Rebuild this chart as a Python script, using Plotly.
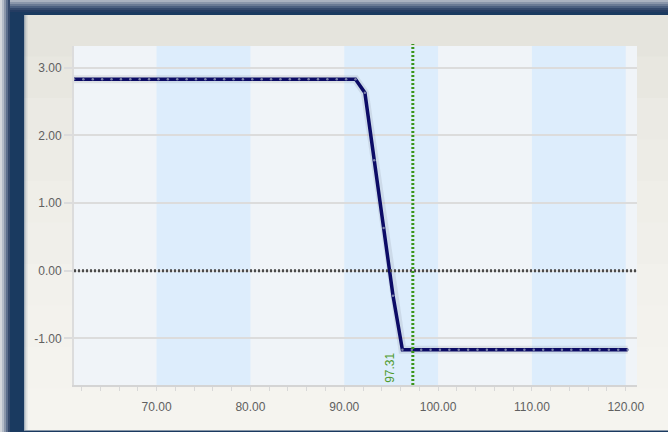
import plotly.graph_objects as go

# ---------------- data ----------------
price = [61.2, 62.2, 63.2, 64.2, 65.2, 66.2, 67.2, 68.2, 69.2, 70.2,
         71.2, 72.2, 73.2, 74.2, 75.2, 76.2, 77.2, 78.2, 79.2, 80.2,
         81.2, 82.2, 83.2, 84.2, 85.2, 86.2, 87.2, 88.2, 89.2, 90.2,
         91.2, 92.2, 93.2, 94.2, 95.2, 96.2, 97.2, 98.2, 99.2, 100.2,
         101.2, 102.2, 103.2, 104.2, 105.2, 106.2, 107.2, 108.2, 109.2, 110.2,
         111.2, 112.2, 113.2, 114.2, 115.2, 116.2, 117.2, 118.2, 119.2, 120.2]
profit = [2.83, 2.83, 2.83, 2.83, 2.83, 2.83, 2.83, 2.83, 2.83, 2.83,
          2.83, 2.83, 2.83, 2.83, 2.83, 2.83, 2.83, 2.83, 2.83, 2.83,
          2.83, 2.83, 2.83, 2.83, 2.83, 2.83, 2.83, 2.83, 2.83, 2.83,
          2.83, 2.63, 1.63, 0.63, -0.37, -1.17, -1.17, -1.17, -1.17, -1.17,
          -1.17, -1.17, -1.17, -1.17, -1.17, -1.17, -1.17, -1.17, -1.17, -1.17,
          -1.17, -1.17, -1.17, -1.17, -1.17, -1.17, -1.17, -1.17, -1.17, -1.17]
band_starts = [70, 90, 110]
band_ends = [80, 100, 120]
current_price = 97.31
x_ticks = [70, 80, 90, 100, 110, 120]
x_tick_labels = ["70.00", "80.00", "90.00", "100.00", "110.00", "120.00"]
y_ticks = [-1, 0, 1, 2, 3]
y_tick_labels = ["-1.00", "0.00", "1.00", "2.00", "3.00"]

# ---------------- layout geometry ----------------
W, H = 668, 432
L, R, T, B = 74, 637, 46, 385


def px(p):
    return (p - L) / (R - L)


def py(p):
    return (B - p) / (B - T)


NAVY = "#1a3a60"
shapes = []

# top gradient strip of the frame
top_cols = ["#aab2c0", "#8a96aa", "#6a7a94", "#4c6080", "#34496c", "#243c62"]
for i, c in enumerate(top_cols):
    shapes.append(dict(type="rect", xref="paper", yref="paper",
                       x0=px(0), x1=px(W), y0=py(i * 2), y1=py(i * 2 + 2),
                       fillcolor=c, line_width=0, layer="below"))
# left soft edge of frame
left_cols = ["#d4d7dc", "#b4bcc8", "#8a96aa", "#5c6e8c", "#34496c"]
for i, c in enumerate(left_cols):
    shapes.append(dict(type="rect", xref="paper", yref="paper",
                       x0=px(i * 2), x1=px(i * 2 + 2), y0=py(H), y1=py(0),
                       fillcolor=c, line_width=0, layer="below"))

# panel with light vertical gradient
panel_cols = ["#e5e4dd", "#e8e7e0", "#ebeae4", "#edece6", "#efeee8",
              "#f0efea", "#f2f1ec", "#f3f2ed", "#f4f3ee", "#f5f4ef"]
n = len(panel_cols)
top_p, bot_p = 15, 430
step = (bot_p - top_p) / n
for i, c in enumerate(panel_cols):
    shapes.append(dict(type="rect", xref="paper", yref="paper",
                       x0=px(24), x1=px(W + 2), y0=py(top_p + i * step),
                       y1=py(top_p + (i + 1) * step + 0.5),
                       fillcolor=c, line_width=0, layer="below"))
# inner shadow on left edge of panel
for i, op in enumerate([0.35, 0.2, 0.1, 0.05]):
    shapes.append(dict(type="rect", xref="paper", yref="paper",
                       x0=px(24 + i), x1=px(25 + i), y0=py(430), y1=py(15),
                       fillcolor="#1a3a60", opacity=op, line_width=0, layer="below"))
# plot area background
shapes.append(dict(type="rect", xref="paper", yref="paper", x0=0, x1=1, y0=0, y1=1,
                   fillcolor="#f0f4f8", line_width=0, layer="below"))

# alternating bands (drawn above grid lines)
for s, e in zip(band_starts, band_ends):
    shapes.append(dict(type="rect", xref="x", yref="paper", x0=s, x1=e, y0=0, y1=1,
                       fillcolor="#ddedfc", line_width=0, layer="between"))

# zero line (dotted)
shapes.append(dict(type="line", xref="paper", yref="y", x0=0, x1=1, y0=0, y1=0,
                   line=dict(color="#4a4a4a", width=3, dash="2px,2px"), layer="above"))
# current price line
shapes.append(dict(type="line", xref="x", yref="paper", x0=current_price, x1=current_price,
                   y0=0, y1=1.006,
                   line=dict(color="#3a951c", width=3, dash="2px,2px"), layer="above"))

fig = go.Figure()
# soft shadow under line
fig.add_trace(go.Scatter(x=price, y=profit, mode="lines",
                         line=dict(color="rgba(60,60,70,0.10)", width=8),
                         hoverinfo="skip", showlegend=False))
fig.add_trace(go.Scatter(x=price, y=profit, mode="lines+markers",
                         line=dict(color="#0c0c66", width=3.5),
                         marker=dict(size=2.5, color="#7a80a8"),
                         showlegend=False))

fig.add_annotation(x=current_price, xref="x", y=0, yref="paper",
                   text=f"{current_price:.2f}", textangle=-90, showarrow=False,
                   xanchor="right", yanchor="bottom", xshift=-14, yshift=0,
                   font=dict(family="Liberation Sans, Arial", size=12, color="#4f9a2e"))

fig.update_layout(
    width=W, height=H,
    margin=dict(l=L, r=W - R, t=T, b=H - B, pad=0),
    paper_bgcolor=NAVY,
    plot_bgcolor="rgba(0,0,0,0)",
    shapes=shapes,
    font=dict(family="Liberation Sans, Arial", size=12, color="#606060"),
    xaxis=dict(range=[61.2, 121.2], tickvals=x_ticks, ticktext=x_tick_labels,
               showgrid=False, zeroline=False, showline=True, linecolor="#d4d4d4",
               linewidth=2, ticks="outside", ticklen=4, tickcolor="#d8d8d8",
               tickwidth=1, ticklabelstandoff=6,
               minor=dict(dtick=2, ticks="outside", ticklen=4, tickcolor="#d8d8d8",
                          tickwidth=1, showgrid=False)),
    yaxis=dict(range=[-1.69, 3.32], tickvals=y_ticks, ticktext=y_tick_labels,
               showgrid=True, gridcolor="#dcdcdc", gridwidth=2, zeroline=False,
               showline=True, linecolor="#dcdcdc", linewidth=2,
               ticks="outside", ticklen=8, tickcolor="#dcdcdc", tickwidth=2,
               ticklabelstandoff=0),
)

fig.write_html("out.html", config={"displayModeBar": False},
               post_script="document.body.style.margin='0';document.body.style.overflow='hidden';")
